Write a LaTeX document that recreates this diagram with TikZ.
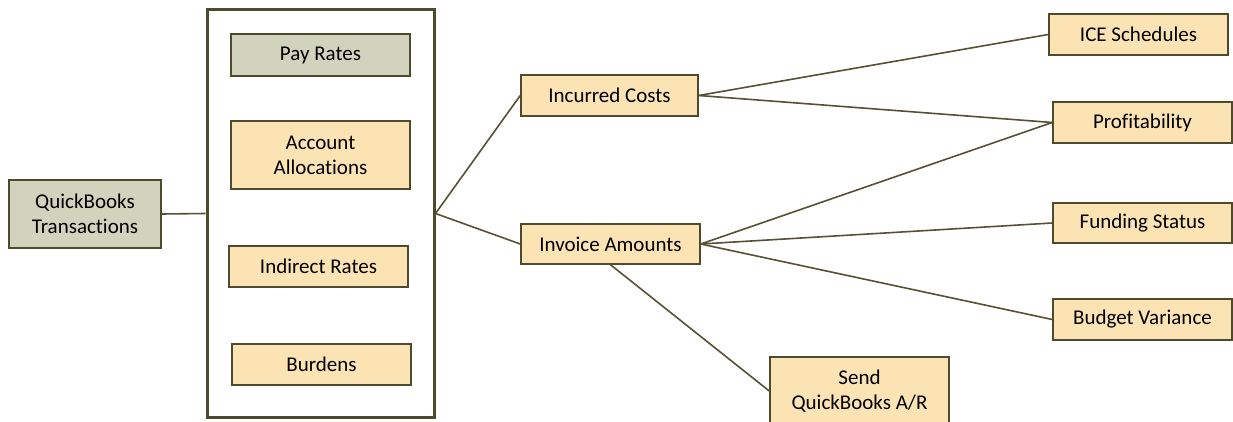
\documentclass[tikz,border=0pt]{standalone}
\usepackage{fontspec}
\setmainfont[Ligatures=NoCommon]{Carlito}
\definecolor{tan}{HTML}{FCE3B4}
\definecolor{sage}{HTML}{D1D3BD}
\definecolor{olive}{HTML}{4D4A2E}
\definecolor{wire}{HTML}{575134}
\tikzset{
  box/.style={draw=olive, line width=1.5pt, fill=tan, inner sep=0pt, align=center,
    font=\fontsize{21}{25}\selectfont, text=black},
  graybox/.style={box, fill=sage},
  link/.style={draw=wire, line width=1.6pt}
}
\begin{document}
\begin{tikzpicture}[x=1pt,y=-1pt]
\useasboundingbox (0,0) rectangle (1233,422);
\clip (0,0) rectangle (1233,422);
\fill[white] (0,0) rectangle (1233,422);
\node[draw=olive, line width=3pt, minimum width=227pt, minimum height=407pt, inner sep=0pt] (frame) at (320.5,213.5) {};
\node[graybox, minimum width=152pt, minimum height=68pt] (qb) at (85,214) {QuickBooks\\Transactions};
\node[graybox, minimum width=179pt, minimum height=42pt] (pay) at (320.5,55) {Pay Rates};
\node[box, minimum width=179pt, minimum height=68pt] (acc) at (320.5,155) {Account\\Allocations};
\node[box, minimum width=179pt, minimum height=41pt] (ind) at (318.5,266.5) {Indirect Rates};
\node[box, minimum width=179pt, minimum height=41pt] (bur) at (321.5,364.5) {Burdens};
\node[box, minimum width=177pt, minimum height=41pt] (inc) at (609.5,95.5) {Incurred Costs};
\node[box, minimum width=179pt, minimum height=40pt] (inv) at (610.5,244) {Invoice Amounts};
\node[box, minimum width=179pt, minimum height=41pt] (ice) at (1138.5,34.5) {ICE Schedules};
\node[box, minimum width=179pt, minimum height=41pt] (prof) at (1142.5,122.5) {Profitability};
\node[box, minimum width=179pt, minimum height=40pt] (fund) at (1142.5,223) {Funding Status};
\node[box, minimum width=179pt, minimum height=41pt] (bud) at (1142.5,319.5) {Budget Variance};
\node[box, minimum width=179pt, minimum height=68pt] (send) at (859.5,391) {Send\\QuickBooks A/R};
\draw[link] (qb.east) -- (frame.west);
\draw[link] (frame.east) -- (inc.west);
\draw[link] (frame.east) -- (inv.west);
\draw[link] (inc.east) -- (ice.west);
\draw[link] (inc.east) -- (prof.west);
\draw[link] (inv.east) -- (prof.west);
\draw[link] (inv.east) -- (fund.west);
\draw[link] (inv.east) -- (bud.west);
\draw[link] (inv.south) -- (send.west);
\end{tikzpicture}
\end{document}
